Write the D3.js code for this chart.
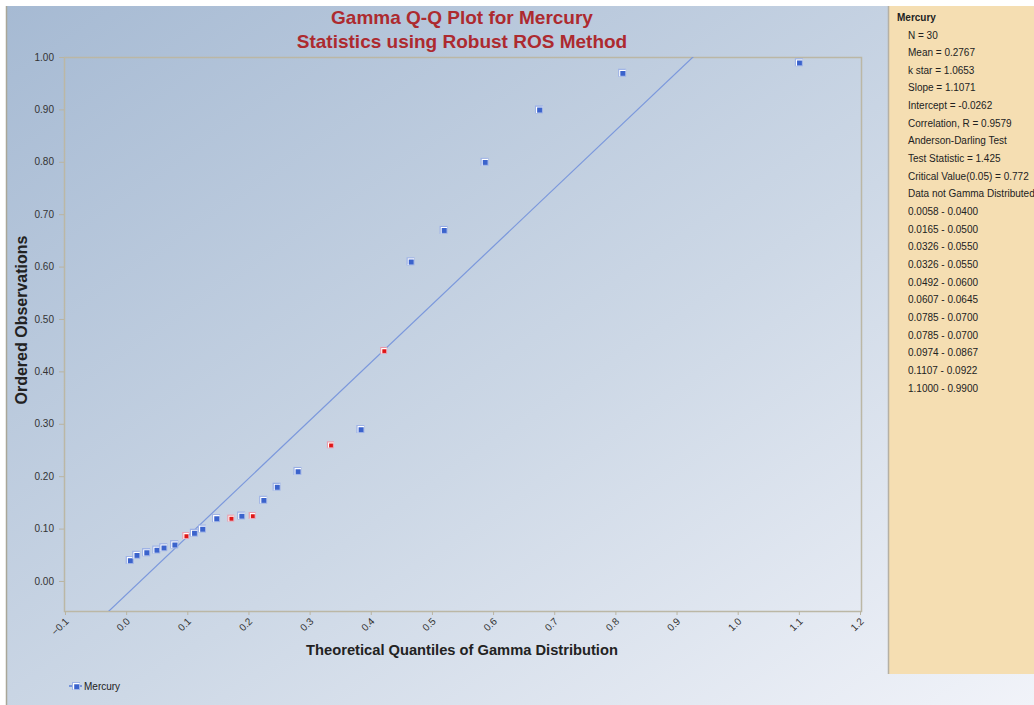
<!DOCTYPE html>
<html>
<head>
<meta charset="utf-8">
<script src="https://cdn.jsdelivr.net/npm/d3@7"></script>
<style>
  body { margin: 0; background: #fff; }
  svg { display: block; font-family: "Liberation Sans", Arial, sans-serif; }
  .axis text { font-size: 10px; fill: #333; }
  .axis line, .axis path { stroke: #b9b4a2; }
  .panel text { font-size: 10px; fill: #222; }
</style>
</head>
<body>
<script>
// theoretical quantiles (x) and ordered observations (y)
const quantiles = [0.0058, 0.0165, 0.0326, 0.0326, 0.0492, 0.0607, 0.0785, 0.0785, 0.0974, 0.1107,
  0.124, 0.147, 0.171, 0.188, 0.206, 0.224, 0.246, 0.280, 0.334, 0.383,
  0.421, 0.465, 0.519, 0.586, 0.675, 0.811, 1.100];
const observed = [0.0400, 0.0500, 0.0550, 0.0550, 0.0600, 0.0645, 0.0700, 0.0700, 0.0867, 0.0922,
  0.100, 0.120, 0.120, 0.125, 0.125, 0.155, 0.180, 0.210, 0.260, 0.290,
  0.440, 0.610, 0.670, 0.800, 0.900, 0.970, 0.990];
// true = estimated (non-detect) value, drawn red
const estimated = [false, false, false, false, false, false, false, false, true, false,
  false, false, true, false, true, false, false, false, true, false,
  true, false, false, false, false, false, false];

const slope = 1.1071, intercept = -0.0262;
const xTicks = d3.range(-0.1, 1.21, 0.1);
const yTicks = d3.range(0, 1.01, 0.1);

const statLines = ["N = 30", "Mean = 0.2767", "k star = 1.0653", "Slope = 1.1071",
  "Intercept = -0.0262", "Correlation, R = 0.9579", "Anderson-Darling Test",
  "Test Statistic = 1.425", "Critical Value(0.05) = 0.772", "Data not Gamma Distributed",
  "0.0058 - 0.0400", "0.0165 - 0.0500", "0.0326 - 0.0550", "0.0326 - 0.0550",
  "0.0492 - 0.0600", "0.0607 - 0.0645", "0.0785 - 0.0700", "0.0785 - 0.0700",
  "0.0974 - 0.0867", "0.1107 - 0.0922", "1.1000 - 0.9900"];

const W = 1034, H = 705;
const plot = {left: 64, top: 57, right: 861, bottom: 611};

const svg = d3.select("body").append("svg")
  .attr("width", W).attr("height", H);

const defs = svg.append("defs");
const grad = defs.append("linearGradient").attr("id", "bg")
  .attr("x1", "0").attr("y1", "0").attr("x2", "1").attr("y2", "1");
grad.append("stop").attr("offset", "0%").attr("stop-color", "#a6bad3");
grad.append("stop").attr("offset", "55%").attr("stop-color", "#cdd8e6");
grad.append("stop").attr("offset", "100%").attr("stop-color", "#f1f3f9");

defs.append("clipPath").attr("id", "clip")
  .append("rect")
  .attr("x", plot.left).attr("y", plot.top)
  .attr("width", plot.right - plot.left).attr("height", plot.bottom - plot.top);

// background
svg.append("rect").attr("x", 6).attr("y", 6).attr("width", W - 6).attr("height", H - 6)
  .attr("fill", "url(#bg)");
svg.append("line").attr("x1", 6.5).attr("x2", 6.5).attr("y1", 6).attr("y2", H)
  .attr("stroke", "#a9a698").attr("stroke-width", 1.5);

// stats panel
const panel = svg.append("g").attr("class", "panel");
panel.append("rect").attr("x", 888).attr("y", 6).attr("width", W - 888).attr("height", 668)
  .attr("fill", "#f5deb2");
panel.append("line").attr("x1", 888.5).attr("x2", 888.5).attr("y1", 6).attr("y2", 674)
  .attr("stroke", "#b5b0a4").attr("stroke-width", 1.5);
panel.append("text").attr("x", 897).attr("y", 21).attr("font-weight", "bold").text("Mercury");
panel.selectAll("text.stat").data(statLines).join("text")
  .attr("class", "stat")
  .attr("x", 908)
  .attr("y", (d, i) => 38.5 + i * 17.65)
  .text(d => d);

// scales
const x = d3.scaleLinear().domain([-0.1, 1.2]).range([plot.left + 1, plot.right - 1]);
const y = d3.scaleLinear().domain([-0.0573, 1.0]).range([plot.bottom, plot.top]);

// plot frame
svg.append("rect")
  .attr("x", plot.left + 0.5).attr("y", plot.top + 0.5)
  .attr("width", plot.right - plot.left).attr("height", plot.bottom - plot.top)
  .attr("fill", "none").attr("stroke", "#bbb7a5").attr("stroke-width", 1.5);

// axes
const gx = svg.append("g").attr("class", "axis")
  .attr("transform", "translate(0," + plot.bottom + ")")
  .call(d3.axisBottom(x).tickValues(xTicks).tickFormat(d3.format(".1f")).tickSize(4).tickSizeOuter(0));
gx.select(".domain").remove();
gx.selectAll("text")
  .attr("text-anchor", "end")
  .attr("dy", null)
  .attr("y", 0)
  .attr("transform", "translate(4,11) rotate(-45)");

const gy = svg.append("g").attr("class", "axis")
  .attr("transform", "translate(" + plot.left + ",0)")
  .call(d3.axisLeft(y).tickValues(yTicks).tickFormat(d3.format(".2f")).tickSize(5).tickPadding(5).tickSizeOuter(0));
gy.select(".domain").remove();

// regression line
svg.append("line")
  .attr("clip-path", "url(#clip)")
  .attr("x1", x(-0.1)).attr("y1", y(intercept + slope * -0.1))
  .attr("x2", x(1.2)).attr("y2", y(intercept + slope * 1.2))
  .attr("stroke", "#7b98dc").attr("stroke-width", 1.2);

// markers
function marker(g, cx, cy, red) {
  const s = red ? 7 : 8;
  const m = g.append("g").attr("transform", "translate(" + (cx - s / 2) + "," + (cy - s / 2) + ")");
  m.append("rect").attr("width", s).attr("height", s)
    .attr("fill", red ? "#e7a2b4" : "#9fb3e6");
  m.append("rect").attr("x", 1).attr("y", 1).attr("width", s - 2).attr("height", s - 2)
    .attr("fill", red ? "#e01616" : "#3b63cc");
  m.append("path").attr("d", "M1," + (s - 1) + "V1H" + (s - 1))
    .attr("fill", "none").attr("stroke", "#fff").attr("stroke-width", 1.2)
    .attr("transform", "translate(0.6,0.6)");
}
const pts = svg.append("g").attr("class", "points");
quantiles.forEach((q, i) => marker(pts, x(q), y(observed[i]), estimated[i]));

// titles
svg.append("text").attr("x", 462).attr("y", 24).attr("text-anchor", "middle")
  .attr("font-size", 19).attr("font-weight", "bold").attr("fill", "#ad2a2f")
  .text("Gamma Q-Q Plot for Mercury");
svg.append("text").attr("x", 462).attr("y", 48).attr("text-anchor", "middle")
  .attr("font-size", 19).attr("font-weight", "bold").attr("fill", "#ad2a2f")
  .text("Statistics using Robust ROS Method");

svg.append("text").attr("x", 462).attr("y", 655).attr("text-anchor", "middle")
  .attr("font-size", 14.7).attr("font-weight", "bold").attr("fill", "#222")
  .text("Theoretical Quantiles of Gamma Distribution");
svg.append("text").attr("transform", "translate(27,320) rotate(-90)").attr("text-anchor", "middle")
  .attr("font-size", 16).attr("font-weight", "bold").attr("fill", "#222")
  .text("Ordered Observations");

// legend
const leg = svg.append("g");
leg.append("line").attr("x1", 69).attr("x2", 82).attr("y1", 686).attr("y2", 686)
  .attr("stroke", "#5b7fd6").attr("stroke-width", 1.5);
marker(leg, 76, 686, false);
leg.append("text").attr("x", 84).attr("y", 689.5).attr("font-size", 10).attr("fill", "#222").text("Mercury");
</script>
</body>
</html>
